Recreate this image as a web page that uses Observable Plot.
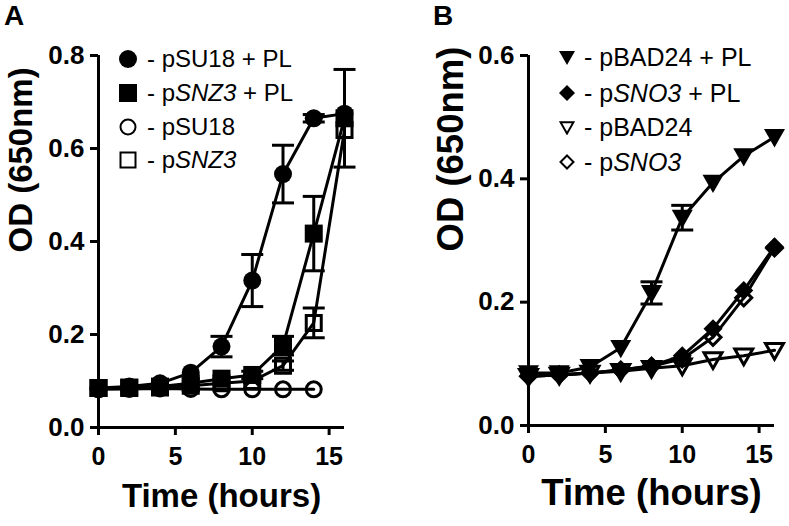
<!DOCTYPE html>
<html><head><meta charset="utf-8">
<script src="https://cdn.jsdelivr.net/npm/d3@7"></script>
<script src="https://cdn.jsdelivr.net/npm/@observablehq/plot@0.6"></script>
<style>
body{margin:0;background:#fff;}
#wrap{position:relative;width:789px;height:526px;font-family:"Liberation Sans",Arial,Helvetica,sans-serif;color:#000;overflow:hidden;}
.panel{position:absolute;top:0;}
.letter{position:absolute;font-weight:bold;font-size:28px;line-height:28px;}
.row{position:absolute;white-space:nowrap;display:flex;align-items:center;height:28px;}
.row svg{flex:none;}
</style></head><body>
<div id="wrap"></div>
<script>
// ---- data ----
const hours = [0, 2, 4, 6, 8, 10, 12, 14, 16];
const hoursShort = [0, 2, 4, 6, 8, 10, 12, 14];

// Panel A
const aLabels = ["pSU18 + PL", "pSNZ3 + PL", "pSU18", "pSNZ3"];
const a_pSU18_PL = [0.085, 0.088, 0.095, 0.118, 0.174, 0.316, 0.545, 0.665, 0.675];
const a_pSU18_PL_err = [0, 0, 0, 0, 0.022, 0.056, 0.062, 0.008, 0];
const a_pSNZ3_PL = [0.085, 0.086, 0.088, 0.095, 0.105, 0.113, 0.176, 0.417, 0.665];
const a_pSNZ3_PL_err = [0, 0, 0, 0, 0, 0.008, 0.02, 0.08, 0.105];
const a_pSU18 = [0.082, 0.083, 0.084, 0.083, 0.082, 0.082, 0.082, 0.082];
const a_pSNZ3 = [0.085, 0.085, 0.086, 0.09, 0.095, 0.1, 0.133, 0.225, 0.64];
const a_pSNZ3_err = [0, 0, 0, 0, 0, 0, 0.01, 0.032, 0];
const aTicksY = [0, 0.2, 0.4, 0.6, 0.8];

// Panel B
const bLabels = ["pBAD24 + PL", "pSNO3 + PL", "pBAD24", "pSNO3"];
const b_pBAD24_PL = [0.085, 0.085, 0.095, 0.126, 0.215, 0.337, 0.394, 0.437, 0.468];
const b_pBAD24_PL_err = [0, 0, 0, 0, 0.018, 0.02, 0, 0, 0];
const b_pSNO3_PL = [0.08, 0.082, 0.085, 0.09, 0.097, 0.113, 0.157, 0.219, 0.29];
const b_pBAD24 = [0.08, 0.082, 0.085, 0.088, 0.093, 0.097, 0.107, 0.113, 0.122];
const b_pSNO3 = [0.08, 0.082, 0.085, 0.09, 0.096, 0.108, 0.143, 0.207, 0.288];
const bTicksY = [0, 0.2, 0.4, 0.6];
const ticksX = [0, 5, 10, 15];

// ---- symbols ----
const rad = s => Math.sqrt(s / Math.PI);
const symSquare = {draw(c, s){const r = rad(s); c.rect(-r, -r, 2*r, 2*r);}};
const symInvTri = {draw(c, s){const r = rad(s); c.moveTo(-r, -0.75*r); c.lineTo(r, -0.75*r); c.lineTo(0, r); c.closePath();}};
const symDiamond = {draw(c, s){const r = rad(s); c.moveTo(0, -r); c.lineTo(r, 0); c.lineTo(0, r); c.lineTo(-r, 0); c.closePath();}};
const symCap = {draw(c, s){const r = rad(s); c.moveTo(-r, 0); c.lineTo(r, 0);}};

function rows(xs, ys, errs, name){
  return ys.map((v, i) => ({t: xs[i], v, e: errs ? errs[i] : 0, name}));
}

function panel({series, yMax, yTicks, mL, mR, mB, titleSize}){
  const all = series.flatMap(s => s.data);
  const errRows = all.filter(d => d.e > 0).map(d => ({t: d.t, lo: d.v - d.e, hi: d.v + d.e}));
  const caps = errRows.flatMap(d => [{t: d.t, y: d.lo}, {t: d.t, y: d.hi}]);
  const marks = [
    Plot.line(all, {x: "t", y: "v", z: "name", stroke: "black", strokeWidth: 3, strokeLinejoin: "round"}),
    Plot.ruleX(errRows, {x: "t", y1: "lo", y2: "hi", stroke: "black", strokeWidth: 3}),
    Plot.dot(caps, {x: "t", y: "y", symbol: symCap, r: 11, stroke: "black", strokeWidth: 3, fill: "none"}),
  ];
  for (const s of series){
    marks.push(Plot.dot(s.data, {x: "t", y: "v", symbol: s.symbol, r: s.filled ? s.r : s.r - 1.5,
      fill: s.filled ? "black" : "none", stroke: "black", strokeWidth: s.filled ? 0 : 3}));
  }
  marks.push(
    Plot.ruleX([0], {stroke: "black", strokeWidth: 3}),
    Plot.ruleY([0], {stroke: "black", strokeWidth: 3}),
    Plot.axisY({ticks: yTicks, tickFormat: d3.format(".1f"), tickSize: 8, strokeWidth: 3, tickPadding: 6,
      fontSize: 26, fontWeight: "bold", label: null}),
    Plot.axisX({ticks: ticksX, tickSize: 8, strokeWidth: 3, tickPadding: 12,
      fontSize: 25, fontWeight: "bold", label: null}),
    Plot.text(["OD (650nm)"], {frameAnchor: "left", rotate: -90, dx: -77, dy: 11, fontSize: titleSize, fontWeight: "bold"}),
    Plot.text(["Time (hours)"], {frameAnchor: "bottom", dy: 79, fontSize: titleSize, fontWeight: "bold"})
  );
  return Plot.plot({
    width: 395, height: 526,
    marginLeft: mL, marginRight: mR, marginTop: 55, marginBottom: mB,
    x: {domain: [0, 16]},
    y: {domain: [0, yMax]},
    style: {fontFamily: '"Liberation Sans", Arial, sans-serif', color: "black", background: "white", overflow: "visible"},
    marks
  });
}

const wrap = document.getElementById("wrap");

const plotA = panel({
  series: [
    {data: rows(hoursShort, a_pSU18, null, "a3"), symbol: "circle", filled: false, r: 9},
    {data: rows(hours, a_pSNZ3, a_pSNZ3_err, "a4"), symbol: symSquare, filled: false, r: 9},
    {data: rows(hours, a_pSU18_PL, a_pSU18_PL_err, "a1"), symbol: "circle", filled: true, r: 9},
    {data: rows(hours, a_pSNZ3_PL, a_pSNZ3_PL_err, "a2"), symbol: symSquare, filled: true, r: 9},
  ],
  yMax: 0.8, yTicks: aTicksY, mL: 98, mR: 51, mB: 99, titleSize: 33
});
plotA.classList.add("panel"); plotA.style.left = "0px";
wrap.appendChild(plotA);

const plotB = panel({
  series: [
    {data: rows(hours, b_pBAD24, null, "b3"), symbol: symInvTri, filled: false, r: 10.5},
    {data: rows(hours, b_pSNO3, null, "b4"), symbol: symDiamond, filled: false, r: 9.5},
    {data: rows(hours, b_pBAD24_PL, b_pBAD24_PL_err, "b1"), symbol: symInvTri, filled: true, r: 10.5},
    {data: rows(hours, b_pSNO3_PL, null, "b2"), symbol: symDiamond, filled: true, r: 9.5},
  ],
  yMax: 0.6, yTicks: bTicksY, mL: 134, mR: 15, mB: 101, titleSize: 36.5
});
plotB.classList.add("panel"); plotB.style.left = "394px";
wrap.appendChild(plotB);

// ---- letters ----
for (const [t, x] of [["A", 4], ["B", 433]]){
  const d = document.createElement("div");
  d.className = "letter"; d.textContent = t; d.style.left = x + "px"; d.style.top = "2px";
  wrap.appendChild(d);
}

// ---- legends ----
function symSvg(kind, filled, size){
  const h = size / 2, sw = filled ? 0 : 2;
  const f = filled ? "black" : "white";
  let shape;
  const r = h - (filled ? 0 : 1.5);
  if (kind === "circle") shape = `<circle cx="${h}" cy="${h}" r="${r}"/>`;
  else if (kind === "square") shape = `<rect x="${h-r}" y="${h-r}" width="${2*r}" height="${2*r}"/>`;
  else if (kind === "tri") shape = `<path d="M${h-r},${h-0.75*r}L${h+r},${h-0.75*r}L${h},${h+r}Z"/>`;
  else shape = `<path d="M${h},${h-r}L${h+r},${h}L${h},${h+r}L${h-r},${h}Z"/>`;
  return `<svg width="${size}" height="${size}" viewBox="0 0 ${size} ${size}"><g fill="${f}" stroke="black" stroke-width="${sw}">${shape}</g></svg>`;
}
function legendLabel(name){
  return name.replace(/(SNZ3|SNO3)/, "<i>$1</i>");
}
const legA = [["circle", true], ["square", true], ["circle", false], ["square", false]];
const legB = [["tri", true], ["diamond", true], ["tri", false], ["diamond", false]];
const rowYA = [59, 93, 127, 160];
const rowYB = [57, 93, 127, 162];
aLabels.forEach((lab, i) => {
  const d = document.createElement("div");
  d.className = "row"; d.style.left = "119px"; d.style.top = (rowYA[i] - 14) + "px"; d.style.fontSize = "24px";
  d.innerHTML = symSvg(legA[i][0], legA[i][1], 18) + `<span style="margin-left:10px">- p${legendLabel(lab.slice(1))}</span>`;
  wrap.appendChild(d);
});
bLabels.forEach((lab, i) => {
  const d = document.createElement("div");
  d.className = "row"; d.style.left = "559px"; d.style.top = (rowYB[i] - 14) + "px"; d.style.fontSize = "25px";
  d.innerHTML = symSvg(legB[i][0], legB[i][1], 16) + `<span style="margin-left:9px">- p${legendLabel(lab.slice(1))}</span>`;
  wrap.appendChild(d);
});
</script>
</body></html>
